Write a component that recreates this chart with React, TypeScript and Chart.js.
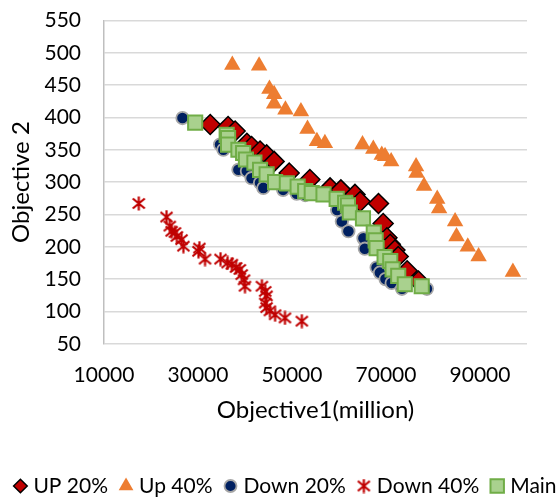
import React, { useEffect, useRef } from 'react';
import { Chart, registerables, PointElement } from 'chart.js';

Chart.register(...registerables);

const FONT = "Lato, 'Open Sans', sans-serif";

const seriesNames = ['UP 20%', 'Up 40%', 'Down 20%', 'Down 40%', 'Main'];
const xTicks = [10000, 30000, 50000, 70000, 90000];

const up20X = [32600, 36400, 37900, 40400, 41400, 43200, 44600, 46200, 49400, 53800, 58100, 60400, 63400, 64500, 68400, 69400, 70200, 70900, 71900, 72600, 74500, 76900];
const up20Y = [389, 386, 379, 360, 355, 348, 342, 332, 314, 304, 291, 288, 281, 270, 267, 236, 214, 204, 195, 185, 163, 147];

const up40X = [37300, 43000, 45200, 46200, 46200, 48600, 51900, 53300, 55300, 57000, 65000, 67300, 69100, 69800, 71100, 76400, 76500, 78100, 80900, 81300, 84700, 85000, 87400, 89700, 97000];
const up40Y = [481, 480, 444, 436, 421, 412, 409, 382, 363, 360, 358, 351, 342, 340, 332, 324, 314, 294, 274, 259, 239, 216, 200, 185, 161];

const down20X = [26700, 34700, 35400, 38600, 40400, 41400, 43200, 43900, 48100, 51000, 52800, 59600, 60600, 62000, 65200, 65500, 68000, 68700, 69900, 71200, 73400, 78700];
const down20Y = [399, 358, 350, 319, 317, 306, 299, 291, 288, 282, 280, 257, 239, 224, 213, 197, 168, 160, 150, 144, 135, 135];

const down40X = [17400, 23300, 24000, 24400, 25100, 25500, 26500, 26900, 30300, 30100, 31500, 34800, 36300, 37200, 38100, 38900, 39300, 39800, 40000, 43600, 44300, 44600, 44300, 44600, 45300, 46400, 48500, 52100];
const down40Y = [267, 246, 232, 224, 222, 216, 211, 201, 198, 193, 181, 181, 175, 173, 168, 165, 157, 149, 139, 139, 131, 124, 113, 106, 101, 95, 90, 85];

const mainX = [29400, 36100, 36400, 36400, 38600, 39600, 40200, 42000, 43200, 44600, 46400, 48900, 51200, 52800, 54200, 56700, 59500, 61300, 61900, 62300, 65100, 67400, 67800, 68000, 69700, 70900, 71400, 72600, 74000, 77600];
const mainY = [392, 373, 368, 358, 350, 345, 335, 330, 319, 312, 300, 298, 293, 286, 283, 281, 274, 268, 264, 253, 244, 222, 210, 198, 184, 178, 165, 155, 142, 139];

const pts = (xs: number[], ys: number[]) => xs.map((x, i) => ({ x, y: ys[i] }));

function makeStar(): HTMLCanvasElement {
  const c = document.createElement('canvas');
  c.width = 15;
  c.height = 15;
  const g = c.getContext('2d')!;
  g.strokeStyle = '#C00000';
  g.lineWidth = 2.2;
  g.beginPath();
  g.moveTo(7.5, 0.5);
  g.lineTo(7.5, 14.5);
  g.moveTo(1.5, 2.5);
  g.lineTo(13.5, 12.5);
  g.moveTo(13.5, 2.5);
  g.lineTo(1.5, 12.5);
  g.stroke();
  return c;
}

const legendRadius = [6.8, 8.5, 6, 7, 9.5];
const TICK_SIZE = 21;
const TITLE_SIZE = 24;

export default function App() {
  const ref = useRef<HTMLCanvasElement | null>(null);

  useEffect(() => {
    if (!ref.current) return;
    const star = makeStar();

    const legendPlugin = {
      id: 'customLegend',
      afterDraw(chart: any) {
        const ctx = chart.ctx as CanvasRenderingContext2D;
        ctx.save();
        ctx.font = `${TICK_SIZE}px ${FONT}`;
        ctx.textBaseline = 'middle';
        const y = 486;
        const dsets = chart.data.datasets;
        const widths = dsets.map((d: any) => ctx.measureText(d.label).width);
        const markerW = 14, gapMT = 6, gapTM = 11;
        const total = widths.reduce((s: number, w: number) => s + markerW + gapMT + w, 0) + gapTM * (dsets.length - 1);
        let x = 285 - total / 2;
        dsets.forEach((d: any, i: number) => {
          const pe: any = new PointElement({} as any);
          pe.x = x + markerW / 2;
          pe.y = y;
          pe.options = {
            pointStyle: d.pointStyle,
            radius: legendRadius[i],
            rotation: 0,
            borderWidth: d.pointBorderWidth,
            backgroundColor: d.backgroundColor,
            borderColor: d.borderColor,
          };
          pe.draw(ctx);
          ctx.fillStyle = '#000';
          ctx.fillText(d.label, x + markerW + gapMT, y);
          x += markerW + gapMT + widths[i] + gapTM;
        });
        ctx.restore();
      },
    };

    const chart = new Chart(ref.current, {
      type: 'scatter',
      data: {
        datasets: [
          {
            label: seriesNames[0], data: pts(up20X, up20Y), pointStyle: 'rectRot', pointRadius: 10,
            backgroundColor: '#C00000', borderColor: '#000000', pointBorderWidth: 1.5, order: 5,
          },
          {
            label: seriesNames[1], data: pts(up40X, up40Y), pointStyle: 'triangle', pointRadius: 9.5,
            backgroundColor: '#ED7D31', borderColor: '#ED7D31', pointBorderWidth: 0, order: 4,
          },
          {
            label: seriesNames[2], data: pts(down20X, down20Y), pointStyle: 'circle', pointRadius: 6.2,
            backgroundColor: '#002060', borderColor: '#A6A6A6', pointBorderWidth: 1.8, order: 3,
          },
          {
            label: seriesNames[3], data: pts(down40X, down40Y), pointStyle: star as any, pointRadius: 7.5,
            backgroundColor: '#C00000', borderColor: '#C00000', pointBorderWidth: 0, order: 2,
          },
          {
            label: seriesNames[4], data: pts(mainX, mainY), pointStyle: 'rect', pointRadius: 10,
            backgroundColor: '#A9D18E', borderColor: '#70AD47', pointBorderWidth: 2, order: 1,
          },
        ] as any,
      },
      options: {
        animation: false,
        responsive: false,
        events: [],
        layout: { padding: { top: 20.4, right: 33, bottom: 72.6, left: 0 } },
        plugins: { legend: { display: false }, tooltip: { enabled: false } },
        scales: {
          x: {
            type: 'linear',
            min: 10000,
            max: 100000,
            afterBuildTicks: (s: any) => { s.ticks = xTicks.map((v) => ({ value: v })); },
            afterFit: (s: any) => { s.height = 80.6; },
            grid: { display: false, drawTicks: false },
            border: { display: false },
            ticks: {
              padding: 18.6, font: { family: FONT, size: TICK_SIZE }, color: '#000', maxRotation: 0, autoSkip: false,
              callback: (v: any) => String(v),
            },
            title: { display: true, text: 'Objective1(million)', font: { family: FONT, size: TITLE_SIZE }, color: '#000', padding: { top: 0, bottom: 0 } },
          },
          y: {
            type: 'linear',
            min: 50,
            max: 550,
            afterFit: (s: any) => { s.width = 104; },
            ticks: { stepSize: 50, padding: 0, font: { family: FONT, size: TICK_SIZE }, color: '#000', callback: (v: any) => String(v) },
            grid: { color: '#D9D9D9', lineWidth: 1.5, drawTicks: true, tickLength: 23, tickColor: 'rgba(0,0,0,0)' },
            border: { display: true, color: '#BFBFBF', width: 1.5 },
            title: { display: true, text: 'Objective 2', font: { family: FONT, size: TITLE_SIZE }, color: '#000', padding: { top: 6.6, bottom: 0 } },
          },
        },
      } as any,
      plugins: [legendPlugin],
    });
    return () => chart.destroy();
  }, []);

  return (
    <div style={{ position: 'absolute', left: 0, top: 0, width: 560, height: 497, background: '#fff' }}>
      <canvas ref={ref} width={560} height={497} style={{ display: 'block' }} />
    </div>
  );
}
